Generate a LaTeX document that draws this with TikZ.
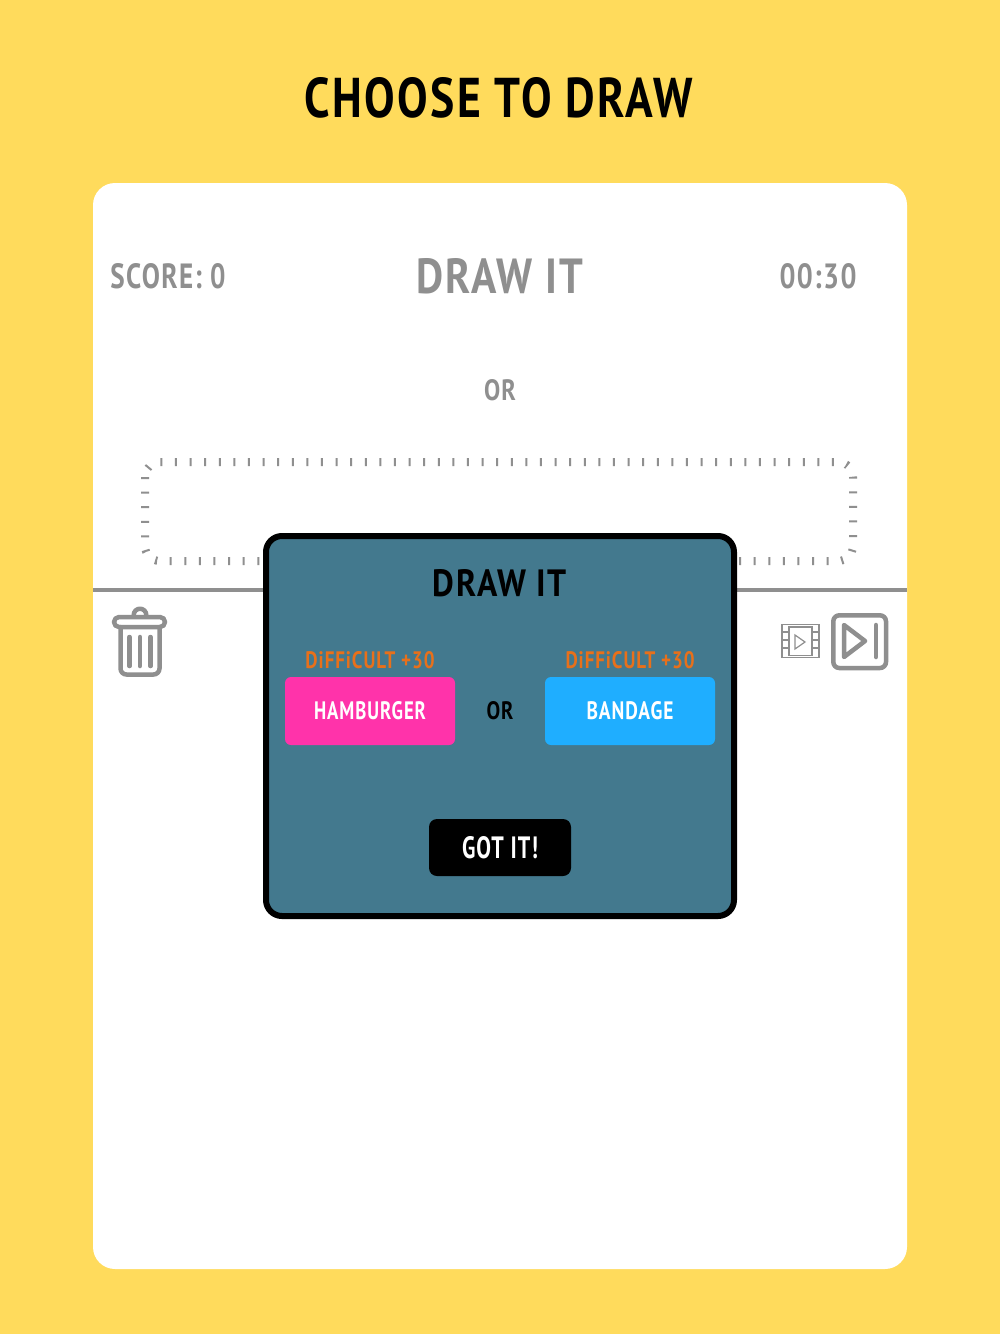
\documentclass[tikz,border=0pt]{standalone}
\usepackage{fontspec}
\setmainfont[LetterSpace=5]{PT Sans}
\usepackage{xcolor}
\usetikzlibrary{positioning}
\definecolor{pagebg}{HTML}{FFDB5C}
\definecolor{dimgray}{HTML}{8F8F8F}
\definecolor{panelbg}{HTML}{43798E}
\definecolor{wordpink}{HTML}{FF33AA}
\definecolor{wordblue}{HTML}{1FAEFF}
\definecolor{hintorange}{HTML}{E8701A}
\newcommand{\fitlabel}[3]{\resizebox{#1pt}{#2pt}{\bfseries #3}}
\tikzset{
  lbl/.style={inner sep=0pt,outer sep=0pt},
  card/.style={fill=white,rounded corners=22pt,minimum width=814pt,minimum height=1086pt,inner sep=0pt,outer sep=0pt},
  popup/.style={draw=black,line width=6pt,fill=panelbg,rounded corners=16pt,minimum width=468pt,minimum height=380pt,inner sep=0pt,outer sep=0pt},
  wordbtn/.style={rounded corners=6pt,minimum width=170pt,minimum height=68pt,inner sep=0pt,outer sep=0pt},
  icon/.style={draw=dimgray,line width=4.5pt,line join=round,line cap=round},
  thinicon/.style={draw=dimgray,line width=1.2pt},
  ticks/.style={draw=dimgray,line width=8pt,dash pattern=on 2pt off 12.6pt}
}
\begin{document}
\begin{tikzpicture}[x=1pt,y=-1pt,node distance=100pt,on grid]
           \fill[pagebg] (0,0) rectangle (1000,1334);
           \node[lbl,text=black] (title) at (499,98) {\fitlabel{388}{40}{CHOOSE TO DRAW}};
           \node[card] (board) at (500,726) {};
           \node[lbl,text=dimgray] (score) at (168,276) {\fitlabel{115}{25}{SCORE: 0}};
           \node[lbl,text=dimgray] (mode) [right=332pt of score] {\fitlabel{167}{35}{DRAW IT}};
           \node[lbl,text=dimgray] (clock) [right=318pt of mode] {\fitlabel{77}{25}{00:30}};
           \node[lbl,text=dimgray] (choice) [below=114pt of mode] {\fitlabel{32}{21}{OR}};
           \draw[ticks,rounded corners=15pt] (145,462) rectangle (853,561);
           \coordinate (rule_l) at (board.west |- 0,590);
           \coordinate (rule_r) at (board.east |- 0,590);
           \draw[dimgray,line width=3.5pt] (rule_l) -- (rule_r);

           \draw[icon,rounded corners=6pt] (120.5,627) -- (120.5,674.5) -- (159.5,674.5) -- (159.5,627);
           \draw[icon,rounded corners=5pt] (114,617) rectangle (165,627);
           \draw[icon] (133.7,615) arc[start angle=180,end angle=0,radius=6.3pt];
           \foreach \barx in {129.5,140,150.5}
             \draw[icon] (\barx,637) -- (\barx,666);

           \draw[thinicon] (782,624.5) rectangle (819,657.5);
           \draw[thinicon] (789,627) rectangle (812,655.5);
           \draw[thinicon] (795,635) -- (795,649) -- (805,642) -- cycle;
           \foreach \stripy in {632,640,648} {
             \draw[thinicon] (782,\stripy) -- (789,\stripy);
             \draw[thinicon] (812,\stripy) -- (819,\stripy);
           }
           \draw[icon,rounded corners=6pt] (833.3,615.3) rectangle (886,668);
           \draw[icon] (844,625) -- (844,657) -- (865,641) -- cycle;
           \draw[icon] (876,625) -- (876,657);

           \node[popup] (panel) at (500,726) {};
           \node[lbl,text=black] (paneltitle) at (500,583) {\fitlabel{134}{27}{DRAW IT}};
           \node[wordbtn,fill=wordpink] (hamburger) at (370,711) {};
           \node[wordbtn,fill=wordblue] (bandage) [right=260pt of hamburger] {};
           \node[lbl,text=white] (hamburgertxt) at (hamburger) {\fitlabel{112}{18}{HAMBURGER}};
           \node[lbl,text=white] (bandagetxt) at (bandage) {\fitlabel{87}{18}{BANDAGE}};
           \node[lbl,text=hintorange] (hint_l) [above=51pt of hamburger] {\fitlabel{129}{17}{DiFFiCULT +30}};
           \node[lbl,text=hintorange] (hint_r) [above=51pt of bandage] {\fitlabel{129}{17}{DiFFiCULT +30}};
           \node[lbl,text=black] (or_mid) [right=130pt of hamburger] {\fitlabel{27}{18}{OR}};
           \node[rounded corners=8pt,fill=black,minimum width=142pt,minimum height=57pt,inner sep=0pt] (gotit) at (500,847.5) {};
           \node[lbl,text=white] (gotittxt) at (gotit) {\fitlabel{76}{22}{GOT IT!}};
        \end{tikzpicture}
\end{document}
